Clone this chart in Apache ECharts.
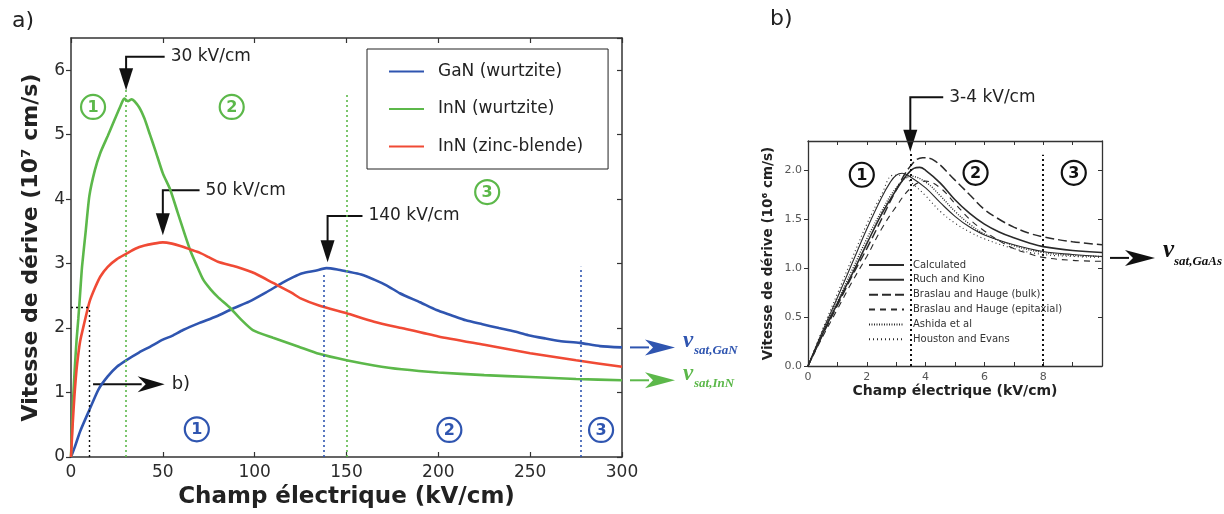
<!DOCTYPE html>
<html><head><meta charset="utf-8">
<script src="https://cdn.jsdelivr.net/npm/echarts@6/dist/echarts.min.js"></script>
<style>html,body{margin:0;padding:0;background:#fff}#c{width:1224px;height:514px}</style>
</head><body><div id="c"></div>
<script>
// ---------- Panel a data (field kV/cm, velocity 1e7 cm/s) ----------
const gaNField = [0,2,5,10,15,20,25,30,37,43,50,55,61,70,79,88,97,106,115,121,126,133,139,145,150,158,166,172,179,190,199,207,215,224,233,241,249,258,266,277,288,300];
const gaNVel   = [0,0.15,0.4,0.73,1.05,1.25,1.4,1.5,1.62,1.71,1.82,1.88,1.97,2.08,2.18,2.3,2.41,2.55,2.7,2.79,2.85,2.89,2.93,2.91,2.88,2.83,2.74,2.66,2.54,2.4,2.28,2.2,2.12,2.06,2.0,1.95,1.89,1.84,1.8,1.77,1.72,1.70];
const inNwField = [0,1,2,3,4,5,6,8,10,13,16,20,24,27,29,31,33,37,40,43,46,50,54,58,62,65,68,72,76,80,86,92,99,110,124,135,150,165,180,200,225,250,275,300];
const inNwVel   = [0,0.8,1.35,1.8,2.15,2.55,2.95,3.5,4.05,4.45,4.72,4.98,5.25,5.45,5.56,5.52,5.55,5.43,5.25,5.0,4.75,4.4,4.15,3.8,3.45,3.2,3.0,2.75,2.6,2.48,2.33,2.15,1.97,1.85,1.71,1.6,1.5,1.42,1.36,1.31,1.27,1.24,1.21,1.19];
const inNzbField = [0,1,2,3,4,5,7,10,13,16,20,25,30,35,40,45,50,55,60,65,70,75,80,90,100,110,120,125,135,150,165,180,200,225,250,275,300];
const inNzbVel   = [0,0.55,1.0,1.35,1.6,1.8,2.05,2.4,2.62,2.8,2.95,3.07,3.15,3.23,3.28,3.31,3.33,3.31,3.27,3.22,3.17,3.1,3.03,2.95,2.85,2.7,2.55,2.46,2.35,2.23,2.1,2.0,1.87,1.74,1.61,1.5,1.40];
const seriesANames = ['GaN (wurtzite)','InN (wurtzite)','InN (zinc-blende)'];
const seriesAColors = ['#2f55b0','#5cb84a','#f04a35'];
const xTicksA = {min:0, max:300, interval:50};
const yTicksA = {min:0, max:6.5, interval:1};

// ---------- Panel b data (field kV/cm, velocity 1e6 cm/s) ----------
const calcField = [0,0.5,1,1.5,2,2.5,3,3.3,3.6,3.8,4,4.5,5,5.5,6,6.5,7,7.5,8,9,10];
const calcVel   = [0,0.33,0.64,0.94,1.25,1.55,1.8,1.93,2.02,2.03,2.0,1.87,1.7,1.56,1.45,1.37,1.31,1.26,1.22,1.18,1.16];
const ruchField = [0,0.5,1,1.5,2,2.5,2.8,3.0,3.2,3.5,4,4.5,5,5.5,6,7,8,9,10];
const ruchVel   = [0,0.36,0.7,1.05,1.4,1.72,1.88,1.95,1.97,1.93,1.82,1.67,1.53,1.42,1.34,1.24,1.17,1.14,1.12];
const bulkField = [0,0.5,1,1.5,2,2.5,3,3.5,3.9,4.3,5,5.5,6,6.5,7,7.5,8,9,10];
const bulkVel   = [0,0.32,0.62,0.92,1.2,1.5,1.8,2.05,2.13,2.1,1.9,1.75,1.6,1.5,1.42,1.36,1.32,1.27,1.24];
const epiField  = [0,0.5,1,1.5,2,2.5,3,3.5,4,4.5,5,5.5,6,6.5,7,7.5,8,9,10];
const epiVel    = [0,0.3,0.58,0.86,1.12,1.4,1.63,1.82,1.89,1.82,1.66,1.5,1.38,1.28,1.2,1.15,1.11,1.08,1.07];
const ashField  = [0,0.5,1,1.5,2,2.5,3,3.5,4,4.5,5,5.5,6,7,8,9,10];
const ashVel    = [0,0.34,0.66,0.98,1.3,1.58,1.82,1.94,1.88,1.74,1.58,1.45,1.35,1.23,1.16,1.13,1.12];
const houField  = [0,0.5,1,1.5,2,2.5,2.9,3.2,3.5,4,4.5,5,5.5,6,7,8,9,10];
const houVel    = [0,0.38,0.74,1.1,1.45,1.75,1.95,1.95,1.88,1.74,1.58,1.46,1.37,1.3,1.2,1.14,1.12,1.11];
const seriesBNames = ['Calculated','Ruch and Kino','Braslau and Hauge (bulk)','Braslau and Hauge (epitaxial)','Ashida et al','Houston and Evans'];
const xTicksB = {min:0, max:10, interval:1};
const yTicksB = {min:0, max:2.3, interval:0.5};

const zip = (a,b) => a.map((v,i)=>[v,b[i]]);
const FONT = 'DejaVu Sans';
const chart = echarts.init(document.getElementById('c'), null, {renderer:'canvas'});

function axisA(pos, show){
  return {
    type:'value', gridIndex:0, position:pos,
    ...(pos==='bottom'||pos==='top'?xTicksA:yTicksA),
    axisLine:{show:true, onZero:false, lineStyle:{color:'#333', width:1.5}},
    axisTick:{show:true, inside: pos!=='left', length:5, lineStyle:{color:'#333', width:1.2}},
    axisLabel:{show:show, color:'#2b2b2b', fontFamily:FONT, fontSize:17, margin: pos==='left'?6:7, showMaxLabel: pos==='left'?false:true},
    splitLine:{show:false}
  };
}
function axisB(pos, show){
  const isX = pos==='bottom'||pos==='top';
  return {
    type:'value', gridIndex:1, position:pos,
    ...(isX?xTicksB:yTicksB),
    axisLine:{show:true, onZero:false, lineStyle:{color:'#333', width:1.3}},
    axisTick:{show:true, inside: pos!=='left', length:4, lineStyle:{color:'#333', width:1}},
    axisLabel:{show:show, color:'#555', fontFamily:FONT, fontSize:11, margin:6, showMaxLabel:false,
      formatter: isX ? (v => (v%2===0 ? String(v) : '')) : (v => v.toFixed(1))},
    splitLine:{show:false}
  };
}

const xA0 = axisA('bottom', true);
xA0.name = 'Champ électrique (kV/cm)'; xA0.nameLocation='middle'; xA0.nameGap=27;
xA0.nameTextStyle = {fontFamily:FONT, fontWeight:'bold', fontSize:23, color:'#222'};
const yA0 = axisA('left', true);
yA0.name = 'Vitesse de dérive (10⁷ cm/s)'; yA0.nameLocation='middle'; yA0.nameGap=29;
yA0.nameTextStyle = {fontFamily:FONT, fontWeight:'bold', fontSize:22, color:'#222'};
const xB0 = axisB('bottom', true);
xB0.name = 'Champ électrique (kV/cm)'; xB0.nameLocation='middle'; xB0.nameGap=18;
xB0.nameTextStyle = {fontFamily:FONT, fontWeight:'bold', fontSize:14, color:'#222'};
const yB0 = axisB('left', true);
yB0.name = 'Vitesse de dérive (10⁶ cm/s)'; yB0.nameLocation='middle'; yB0.nameGap=33;
yB0.nameTextStyle = {fontFamily:FONT, fontWeight:'bold', fontSize:13.5, color:'#222'};

const dotted = (c,w) => ({color:c, type:[2,3], width:w||1.6});
const vLine = (x, top, c, w) => [{coord:[x,0], lineStyle:dotted(c,w)},{coord:[x,top]}];

const aData = [zip(gaNField,gaNVel), zip(inNwField,inNwVel), zip(inNzbField,inNzbVel)];
const seriesA = aData.map((d,i)=>({
  name:seriesANames[i], type:'line', xAxisIndex:0, yAxisIndex:0, data:d,
  symbol:'none', smooth:0.2, lineStyle:{color:seriesAColors[i], width:2.6}, itemStyle:{color:seriesAColors[i]},
  silent:true, z:3
}));
seriesA[0].markLine = {
  silent:true, symbol:'none', label:{show:false}, animation:false,
  data:[
    vLine(30, 5.7, '#5cb84a'),
    vLine(150, 5.64, '#5cb84a'),
    vLine(137.5, 2.86, '#2f55b0'),
    vLine(277.5, 2.95, '#2f55b0'),
    vLine(10, 2.32, '#111', 1.4),
    [{coord:[0,2.32], lineStyle:dotted('#111',1.4)},{coord:[10,2.32]}]
  ]
};

const bData = [zip(calcField,calcVel), zip(ruchField,ruchVel), zip(bulkField,bulkVel), zip(epiField,epiVel), zip(ashField,ashVel), zip(houField,houVel)];
const bStyles = [
  {type:'solid', width:1.6},
  {type:'solid', width:1.1},
  {type:[9,4], width:1.5},
  {type:[6,5], width:1.1},
  {type:[1,1.5], width:1.4},
  {type:[1,3], width:1.1}
];
const seriesB = bData.map((d,i)=>({
  name:seriesBNames[i], type:'line', xAxisIndex:2, yAxisIndex:2, data:d,
  symbol:'none', smooth:0.4, lineStyle:Object.assign({color:'#2a2a2a'}, bStyles[i]), itemStyle:{color:'#2a2a2a'},
  silent:true
}));
seriesB[0].markLine = {
  silent:true, symbol:'none', label:{show:false}, animation:false,
  data:[ vLine(3.48, 2.19, '#111', 2), vLine(8, 2.16, '#111', 2) ]
};

chart.setOption({
  animation:false,
  grid:[
    {left:71, right:602, top:38, bottom:57, show:false},
    {left:808, right:122, top:141, bottom:148, show:false}
  ],
  xAxis:[xA0, axisA('top', false), xB0, axisB('top', false)],
  yAxis:[yA0, axisA('right', false), yB0, axisB('right', false)],
  legend:[
    {data:seriesANames, left:367, top:49, orient:'vertical', borderColor:'#222', borderWidth:1,
     padding:[12,25,12,21], itemWidth:35, itemHeight:14, itemGap:16.5,
     itemStyle:{opacity:0},
     textStyle:{fontFamily:FONT, fontSize:17, color:'#222', lineHeight:21, padding:[0,0,0,9]}},
    {data:seriesBNames, left:868, top:260, orient:'vertical', padding:0,
     itemWidth:35, itemHeight:10, itemGap:4.86,
     itemStyle:{opacity:0},
     textStyle:{fontFamily:FONT, fontSize:10, color:'#333', lineHeight:10, padding:[0,0,0,4]}}
  ],
  series:[...seriesA, ...seriesB]
});

// ---------- annotations anchored to data coordinates ----------
const PA = (x,y) => chart.convertToPixel({xAxisIndex:0, yAxisIndex:0}, [x,y]);
const PB = (x,y) => chart.convertToPixel({xAxisIndex:2, yAxisIndex:2}, [x,y]);
const g = [];
function elbow(P, sx, ly, cx, ty, label, fs){
  const s = P(sx,ly), c = P(cx,ly), t = P(cx,ty);
  g.push({type:'polyline', shape:{points:[[s[0],s[1]],[c[0],c[1]],[t[0],t[1]-18]]}, style:{stroke:'#111', lineWidth:2, fill:null}});
  g.push({type:'polygon', shape:{points:[[t[0]-7,t[1]-22],[t[0]+7,t[1]-22],[t[0],t[1]]]}, style:{fill:'#111'}});
  g.push({type:'text', x:s[0]+6, y:s[1], style:{text:label, font:fs+'px '+FONT, fill:'#222', verticalAlign:'middle'}});
}
function hArrow(x1, x2, y, color, head, half){
  g.push({type:'line', shape:{x1:x1, y1:y, x2:x2-head+4, y2:y}, style:{stroke:color, lineWidth:2}});
  g.push({type:'polygon', shape:{points:[[x2,y],[x2-head,y-half],[x2-head+8,y],[x2-head,y+half]]}, style:{fill:color}});
}
function circled(p, n, color){
  g.push({type:'circle', shape:{cx:p[0], cy:p[1], r:12}, style:{fill:'#fff', stroke:color, lineWidth:2.2}, z:5});
  g.push({type:'text', x:p[0], y:p[1]+1, style:{text:n, font:'bold 16px '+FONT, fill:color, align:'center', verticalAlign:'middle'}, z:6});
}
function vsat(P, xEdge, y, sub, color, vfs, sfs){
  const p = P(xEdge, y);
  hArrow(p[0]+8, p[0]+53, p[1], color, 30, 8);
  g.push({type:'text', x:p[0]+61, y:p[1]+5, style:{text:'v', font:'italic bold '+vfs+'px Liberation Serif', fill:color, verticalAlign:'bottom'}});
  g.push({type:'text', x:p[0]+72, y:p[1]+10, style:{text:sub, font:'italic bold '+sfs+'px Liberation Serif', fill:color, verticalAlign:'bottom'}});
}

elbow(PA, 51, 6.21, 30, 5.69, '30 kV/cm', 17);
elbow(PA, 70, 4.14, 50, 3.44, '50 kV/cm', 17);
elbow(PA, 158.7, 3.74, 139.7, 3.02, '140 kV/cm', 17);
elbow(PB, 4.6, 2.746, 3.48, 2.19, '3-4 kV/cm', 17);

// b) arrow in panel a
(function(){ const a = PA(12,1.13), b = PA(51,1.13);
  hArrow(a[0], b[0], a[1], '#111', 27, 8);
  g.push({type:'text', x:b[0]+7, y:b[1], style:{text:'b)', font:'18px '+FONT, fill:'#222', verticalAlign:'middle'}});
})();

circled(PA(12,5.43), '1', '#5cb84a');
circled(PA(87.5,5.43), '2', '#5cb84a');
circled(PA(226.6,4.11), '3', '#5cb84a');
circled(PA(68.5,0.43), '1', '#2f55b0');
circled(PA(206,0.42), '2', '#2f55b0');
circled(PA(288.6,0.42), '3', '#2f55b0');
circled(PB(1.83,1.955), '1', '#111');
circled(PB(5.7,1.975), '2', '#111');
circled(PB(9.04,1.975), '3', '#111');

vsat(PA, 300, 1.70, 'sat,GaN', '#2f55b0', 23, 13);
vsat(PA, 300, 1.19, 'sat,InN', '#5cb84a', 23, 13);
vsat(PB, 10, 1.105, 'sat,GaAs', '#111', 25, 13);

g.push({type:'text', x:12, y:10, style:{text:'a)', font:'22px '+FONT, fill:'#222'}});
g.push({type:'text', x:770, y:8, style:{text:'b)', font:'22px '+FONT, fill:'#222'}});

chart.setOption({graphic:{elements:g}});
</script></body></html>
